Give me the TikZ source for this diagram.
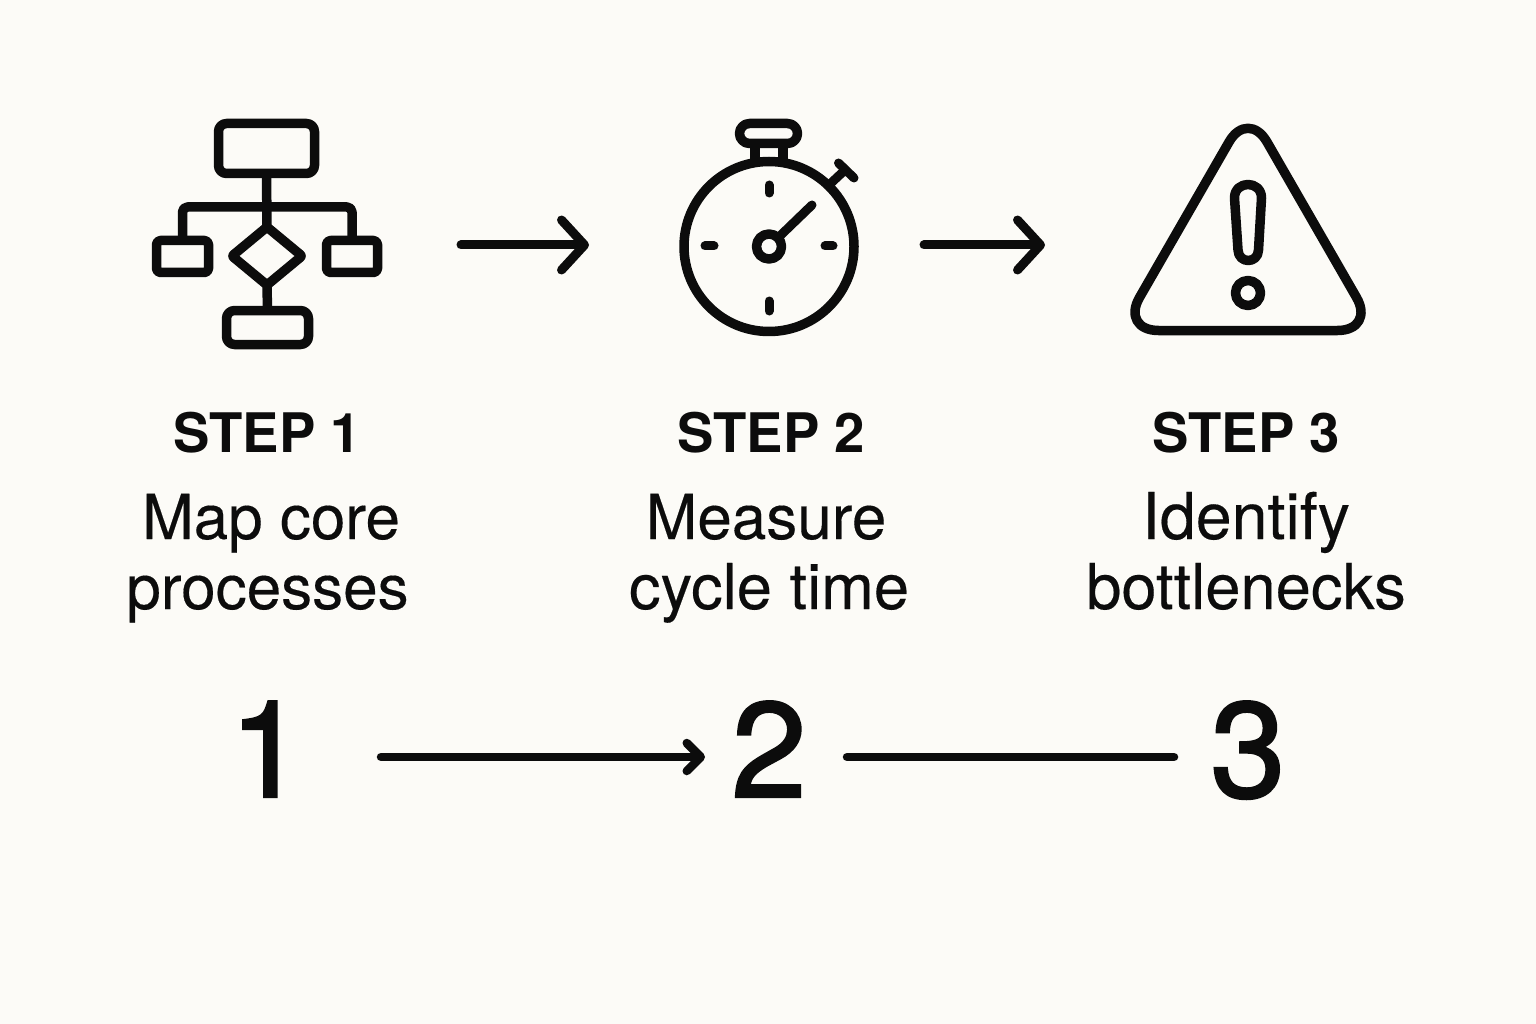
\documentclass[tikz,border=0pt]{standalone}
\usepackage{fontspec}
\setmainfont{TeX Gyre Heros}
\newfontfamily\numfont[FakeBold=1.8]{TeX Gyre Heros}
\newfontfamily\labelfont[FakeBold=0.25]{TeX Gyre Heros}
\usetikzlibrary{arrows.meta,shapes.geometric}
\definecolor{paper}{HTML}{FCFBF7}
\definecolor{ink}{HTML}{0C0C0C}
\tikzset{
  x=1pt,y=-1pt,
  icon/.style={draw=ink,line width=9.5pt,line join=round,line cap=round},
  flowbox/.style={icon,rectangle,rounded corners=8pt,outer sep=0pt,inner sep=0pt},
  tick/.style={draw=ink,line width=9pt,line cap=round},
  bigarrow/.style={draw=ink,line width=9pt,line cap=round,
     -{Straight Barb[round,length=23pt,width=50pt,line width=9pt]}},
  steptitle/.style={anchor=base,inner sep=0pt,text=ink,font=\fontsize{54.5}{60}\selectfont\bfseries},
  steptext/.style={anchor=base,inner sep=0pt,text=ink,font=\labelfont\fontsize{62}{68}\selectfont},
  steptextb/.style={steptext,font=\labelfont\fontsize{63.3}{68}\selectfont},
  steptextc/.style={steptext,font=\labelfont\fontsize{64.5}{68}\selectfont},
  numeral/.style={inner sep=0pt,outer sep=0pt,text=ink,minimum width=130pt,text height=100pt,text depth=20pt,
     anchor=center,font=\numfont\fontsize{135}{140}\selectfont},
  numline/.style={draw=ink,line width=8.5pt,line cap=round},
}
\begin{document}
\begin{tikzpicture}
\fill[paper] (0,0) rectangle (1536,1024);
\useasboundingbox (0,0) rectangle (1536,1024);

% flowchart icon
\node[flowbox,minimum width=96pt,minimum height=50pt] (top) at (266.5,148.5) {};
\node[flowbox,rounded corners=4pt,minimum width=52pt,minimum height=32pt] (left) at (182.5,256.5) {};
\node[flowbox,rounded corners=4pt,minimum width=51pt,minimum height=32pt] (right) at (352,256.5) {};
\node[icon,diamond,rounded corners=2pt,minimum width=70pt,minimum height=58pt,inner sep=0pt,outer sep=0pt,aspect=1.2] (dia) at (267,256) {};
\node[flowbox,minimum width=82pt,minimum height=34pt] (bot) at (267.5,327.5) {};
\coordinate (bar) at (267,207);
\draw[icon,line cap=butt] (top.south) -- (dia.north);
\draw[icon,line cap=butt] (dia.south) -- (bot.north);
\draw[icon,line cap=butt,rounded corners=5pt] (left.north) |- (bar) -| (right.north);

% arrow 1
\coordinate (a1s) at (461,245);
\coordinate (a1e) at (589,245);
\draw[bigarrow] (a1s) -- (a1e);

% stopwatch icon
\node[icon,circle,minimum size=170pt,inner sep=0pt,outer sep=0pt] (body) at (769,246.5) {};
\node[icon,rectangle,rounded corners=10pt,minimum width=58pt,minimum height=20pt,inner sep=0pt,outer sep=0pt] (crown) at (768.5,133.5) {};
\draw[icon,line cap=butt] (755,143) -- (755,161);
\draw[icon,line cap=butt] (783,143) -- (783,161);
\coordinate (push1) at (830,184);
\coordinate (push2) at (845,170);
\draw[tick,line cap=butt] (push1) -- (push2);
\coordinate (pa) at (838.5,163);
\coordinate (pb) at (854,178);
\draw[tick] (pa) -- (pb);
\draw[tick] (769,185) -- (769,193);
\draw[tick] (769,301) -- (769,311);
\draw[tick] (705,246) -- (714,246);
\draw[tick] (825,246) -- (833,246);
\node[icon,circle,minimum size=25pt,inner sep=0pt,outer sep=0pt] (hub) at (769,246.5) {};
\coordinate (hand) at (812,205);
\draw[tick] (hub) -- (hand);

% arrow 2
\coordinate (a2s) at (924,245);
\coordinate (a2e) at (1045,245);
\draw[bigarrow] (a2s) -- (a2e);

% warning icon
\draw[icon,rounded corners=38pt] (1248,109) -- (1375.5,330.5) -- (1120.5,330.5) -- cycle;
\draw[icon] (1234.5,198) .. controls (1234.5,180) and (1261.5,180) .. (1261.5,198)
  -- (1258.5,250) .. controls (1258,264) and (1238.5,264) .. (1238,250) -- cycle;
\node[icon,circle,minimum size=25pt,inner sep=0pt,outer sep=0pt] (dot) at (1248,293) {};

% labels
\node[steptitle] (t1) at (267,452) {STEP 1};
\node[steptitle] (t2) at (771,452) {STEP 2};
\node[steptitle] (t3) at (1246,452) {STEP 3};
\node[steptext] (l1a) at (271,539) {Map core};
\node[steptext] (l1b) at (267.5,609) {processes};
\node[steptext] (l2a) at (766,539) {Measure};
\node[steptextb] (l2b) at (769,609) {cycle time};
\node[steptextc] (l3a) at (1246,539) {Identify};
\node[steptextb] (l3b) at (1246,609) {bottlenecks};

% numbers
\node[numeral] (n1) at (267,757) {1};
\node[numeral] (n2) at (769,757) {2};
\node[numeral] (n3) at (1248,757) {3};
\draw[numline,-{Straight Barb[round,length=14pt,width=28pt,line width=8.5pt]},shorten <=49pt,shorten >=-1pt] (n1) -- (n2);
\draw[numline,shorten <=13pt,shorten >=9pt] (n2) -- (n3);
\end{tikzpicture}
\end{document}
